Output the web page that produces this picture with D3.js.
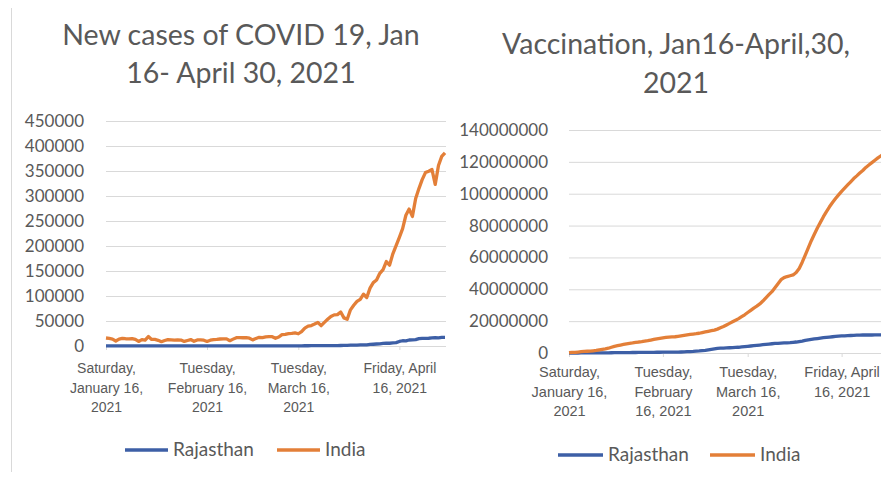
<!DOCTYPE html>
<html>
<head>
  <meta charset="utf-8">
  <title>COVID 19 cases and vaccination, Jan 16 - April 30, 2021</title>
  <script src="https://d3js.org/d3.v7.min.js"></script>
  <style>
    body { margin: 0; background: #fff; }
    svg { display: block; font-family: Lato, "Open Sans", sans-serif; }
  </style>
</head>
<body>
<svg id="canvas"></svg>
<script>

var W = 881, H = 477;

// ---- data (daily, Jan 16 .. Apr 30 2021) ----
var startDate = new Date(2021, 0, 16);
var endDate = new Date(2021, 4, 1);

// new cases per day
var indiaCases = [
  16000, 15158, 13788, 10050, 13823, 15223, 14545, 14256, 14849, 13203, 9102, 12689, 11666, 18855, 13083, 13052,
  11427, 8635, 11039, 12899, 12408, 11713, 12059, 11831, 9110, 11067, 12923, 9309, 12143, 12194, 11649, 9121,
  11610, 12881, 13193, 13993, 14264, 14199, 10584, 13742, 16738, 16577, 16488, 16752,
  15510, 12286, 14989, 17407, 16838, 18327, 18711, 18599, 15388, 17921, 22854, 23285, 24882, 25320, 26291, 24492,
  28903, 35871, 39726, 40953, 43846, 46951, 40715, 47262, 53476, 59118, 62258, 62714, 68020, 56211, 53480,
  72330, 81466, 89129, 93249, 103558, 96982, 115736, 126789, 131968, 145384, 152879, 168912, 161736, 184372, 200739,
  217353, 234692, 261500, 273810, 259170, 295041, 314835, 332730, 346786, 349691, 352991, 323144, 360960, 379257, 386452
];
var rajCases = [
  262, 241, 187, 233, 255, 222, 206, 203, 181, 143, 150, 125, 140, 145, 131, 102,
  94, 87, 95, 103, 90, 88, 99, 76, 72, 81, 82, 85, 84, 93, 85, 79, 80, 85, 89, 100, 91, 95, 99, 105, 113, 130, 141, 155,
  170, 165, 172, 190, 200, 210, 220, 235, 230, 250, 270, 290, 310, 330, 359, 400, 439, 485, 530, 566,
  612, 590, 660, 703, 785, 810, 863, 884, 1024, 1212, 1350,
  1576, 1729, 1933, 2126, 2347, 2437, 3180, 3526, 3970, 4401, 5105, 5771, 5528, 6200, 6658,
  9046, 10514, 10262, 11967, 12201, 12662, 14622, 15355, 15398, 15467, 16089, 16613, 16438, 17269, 17296
];

// cumulative vaccine doses, millions
var indiaVacc = [
  0.2, 0.4, 0.4, 0.6, 0.8, 1.0, 1.1, 1.2, 1.4, 1.6,
  2.0, 2.3, 2.6, 3.0, 3.6, 4.2, 4.6, 5.0, 5.4, 5.8,
  6.1, 6.3, 6.6, 6.9, 7.1, 7.4, 7.7, 8.1, 8.5, 8.9,
  9.2, 9.5, 9.8, 10.0, 10.1, 10.2, 10.5, 10.8, 11.1, 11.4,
  11.7, 11.9, 12.1, 12.4, 12.8, 13.2, 13.6, 14.0, 14.4, 15.0,
  15.8, 16.6, 17.6, 18.6, 19.6, 20.6, 21.6, 22.8, 24.0, 25.4,
  26.8, 28.2, 29.4, 30.8, 32.6, 34.6, 36.6, 38.5, 41.0, 43.5,
  46.0, 47.3, 48.0, 48.5, 49.0, 50.5, 53.0, 57.0, 61.5, 66.0,
  70.5, 74.5, 78.5, 82.0, 85.6, 88.8, 91.8, 94.5, 97.0, 99.3,
  101.5, 103.5, 105.5, 107.5, 109.5, 111.2, 113.0, 114.6, 116.5, 118.0,
  119.5, 121.0, 122.5, 123.8, 125.0
];
var rajVacc = [
  0.0, 0.0, 0.01, 0.01, 0.02, 0.02, 0.03, 0.04, 0.05, 0.06,
  0.08, 0.1, 0.12, 0.14, 0.16, 0.18, 0.2, 0.22, 0.24, 0.26,
  0.28, 0.3, 0.32, 0.34, 0.36, 0.38, 0.4, 0.42, 0.44, 0.46,
  0.48, 0.5, 0.52, 0.54, 0.56, 0.58, 0.6, 0.64, 0.7, 0.8,
  0.9, 1.0, 1.15, 1.3, 1.5, 1.7, 2.0, 2.3, 2.6, 2.9,
  3.0, 3.1, 3.2, 3.3, 3.4, 3.5, 3.6, 3.8, 4.0, 4.2,
  4.4, 4.6, 4.8, 5.0, 5.2, 5.4, 5.6, 5.8, 6.0, 6.1,
  6.2, 6.3, 6.4, 6.5, 6.7, 6.9, 7.2, 7.5, 7.9, 8.2,
  8.5, 8.8, 9.1, 9.4, 9.6, 9.8, 10.0, 10.2, 10.4, 10.6,
  10.7, 10.8, 10.9, 11.0, 11.1, 11.2, 11.2, 11.3, 11.3, 11.3,
  11.3, 11.4, 11.4, 11.4, 11.4
];

// axis ticks / labels
var tickDates = [new Date(2021, 0, 16), new Date(2021, 1, 16), new Date(2021, 2, 16), new Date(2021, 3, 16)];
var casesTicks = [0, 50000, 100000, 150000, 200000, 250000, 300000, 350000, 400000, 450000];
var vaccTicks = [0, 20000000, 40000000, 60000000, 80000000, 100000000, 120000000, 140000000];
var leftTickLabels = [["Saturday,", "January 16,", "2021"], ["Tuesday,", "February 16,", "2021"],
                      ["Tuesday,", "March 16,", "2021"], ["Friday, April", "16, 2021"]];
var rightTickLabels = [["Saturday,", "January 16,", "2021"], ["Tuesday,", "February", "16, 2021"],
                       ["Tuesday,", "March 16,", "2021"], ["Friday, April", "16, 2021"]];
var seriesNames = ["Rajasthan", "India"];
var seriesColors = ["#3d5fa6", "#e37f38"];

var days = d3.timeDay.range(startDate, endDate);

var svg = d3.select("#canvas").attr("width", W).attr("height", H);
svg.append("rect").attr("width", W).attr("height", H).attr("fill", "#fff");

// thin panel edge on the left
svg.append("line")
  .attr("x1", 11.5).attr("x2", 11.5).attr("y1", 8).attr("y2", 472)
  .attr("stroke", "#d9d9d9").attr("stroke-width", 1);

function drawChart(cfg) {
  var g = svg.append("g");
  var x = d3.scaleTime().domain([startDate, days[days.length - 1]]).range(cfg.xRange);
  var y = d3.scaleLinear().domain(cfg.yDomain).range(cfg.yRange);

  // title
  cfg.title.forEach(function(t, i) {
    g.append("text").text(t)
      .attr("x", cfg.titleX).attr("y", cfg.titleY[i])
      .attr("text-anchor", "middle")
      .style("font-size", "28.5px")
      .style("fill", "#595959");
  });

  // y axis + gridlines
  var yAxis = g.append("g")
    .attr("transform", "translate(" + cfg.xRange[0] + ",0)")
    .call(d3.axisLeft(y).tickValues(cfg.yTicks).tickFormat(d3.format("d"))
      .tickSize(-(cfg.gridRight - cfg.xRange[0])).tickPadding(cfg.yPad));
  yAxis.select(".domain").remove();
  yAxis.selectAll("line").attr("stroke", "#d9d9d9");
  yAxis.selectAll("text").style("font-size", "17px").style("fill", "#595959")
    .style("font-family", "Lato, sans-serif");

  // x axis
  var xAxis = g.append("g")
    .attr("transform", "translate(0," + cfg.yRange[0] + ")")
    .call(d3.axisBottom(x).tickValues(tickDates).tickSize(4).tickFormat(""));
  xAxis.select(".domain").remove();
  xAxis.selectAll("line").attr("stroke", "#d9d9d9");
  xAxis.selectAll(".tick").each(function(d, i) {
    var t = d3.select(this).select("text")
      .attr("y", 0).attr("dy", null)
      .style("font-size", cfg.xFont).style("fill", "#595959");
    cfg.xLabels[i].forEach(function(s, j) {
      t.append("tspan").text(s).attr("x", 0).attr("y", cfg.xLabelY[j]);
    });
  });

  // lines (Rajasthan first, India on top)
  var line = d3.line()
    .x(function(d, i) { return x(days[i]); })
    .y(function(d) { return y(d * cfg.unit); });
  [cfg.raj, cfg.india].forEach(function(s, k) {
    g.append("path").datum(s)
      .attr("d", line)
      .attr("fill", "none")
      .attr("stroke", seriesColors[k])
      .attr("stroke-width", 3.3)
      .attr("stroke-linejoin", "round");
  });

  // legend
  seriesNames.forEach(function(name, k) {
    var lx = cfg.legendX[k];
    g.append("line")
      .attr("x1", lx).attr("x2", lx + cfg.legendLen)
      .attr("y1", cfg.legendY).attr("y2", cfg.legendY)
      .attr("stroke", seriesColors[k]).attr("stroke-width", 3.3);
    g.append("text").text(name)
      .attr("x", lx + cfg.legendLen + 5).attr("y", cfg.legendY + 6)
      .style("font-size", "19px").style("fill", "#595959");
  });
}

// left: new cases
drawChart({
  title: ["New cases of COVID 19, Jan", "16- April 30, 2021"],
  titleX: 241, titleY: [45, 83],
  xRange: [106, 445], gridRight: 446,
  yDomain: [0, 450000], yRange: [346, 121], yTicks: casesTicks, yPad: 22,
  xLabels: leftTickLabels, xLabelY: [27, 47, 66], xFont: "14px",
  raj: rajCases, india: indiaCases, unit: 1,
  legendX: [125, 277], legendLen: 43, legendY: 450
});

// right: vaccination
drawChart({
  title: ["Vaccination, Jan16-April,30,", "2021"],
  titleX: 676, titleY: [54, 93],
  xRange: [569, 884], gridRight: 884,
  yDomain: [0, 140000000], yRange: [353, 130], yTicks: vaccTicks, yPad: 21,
  xLabels: rightTickLabels, xLabelY: [24, 44, 63], xFont: "14.5px",
  raj: rajVacc, india: indiaVacc, unit: 1000000,
  legendX: [558, 710], legendLen: 45, legendY: 455
});

</script>
</body>
</html>
